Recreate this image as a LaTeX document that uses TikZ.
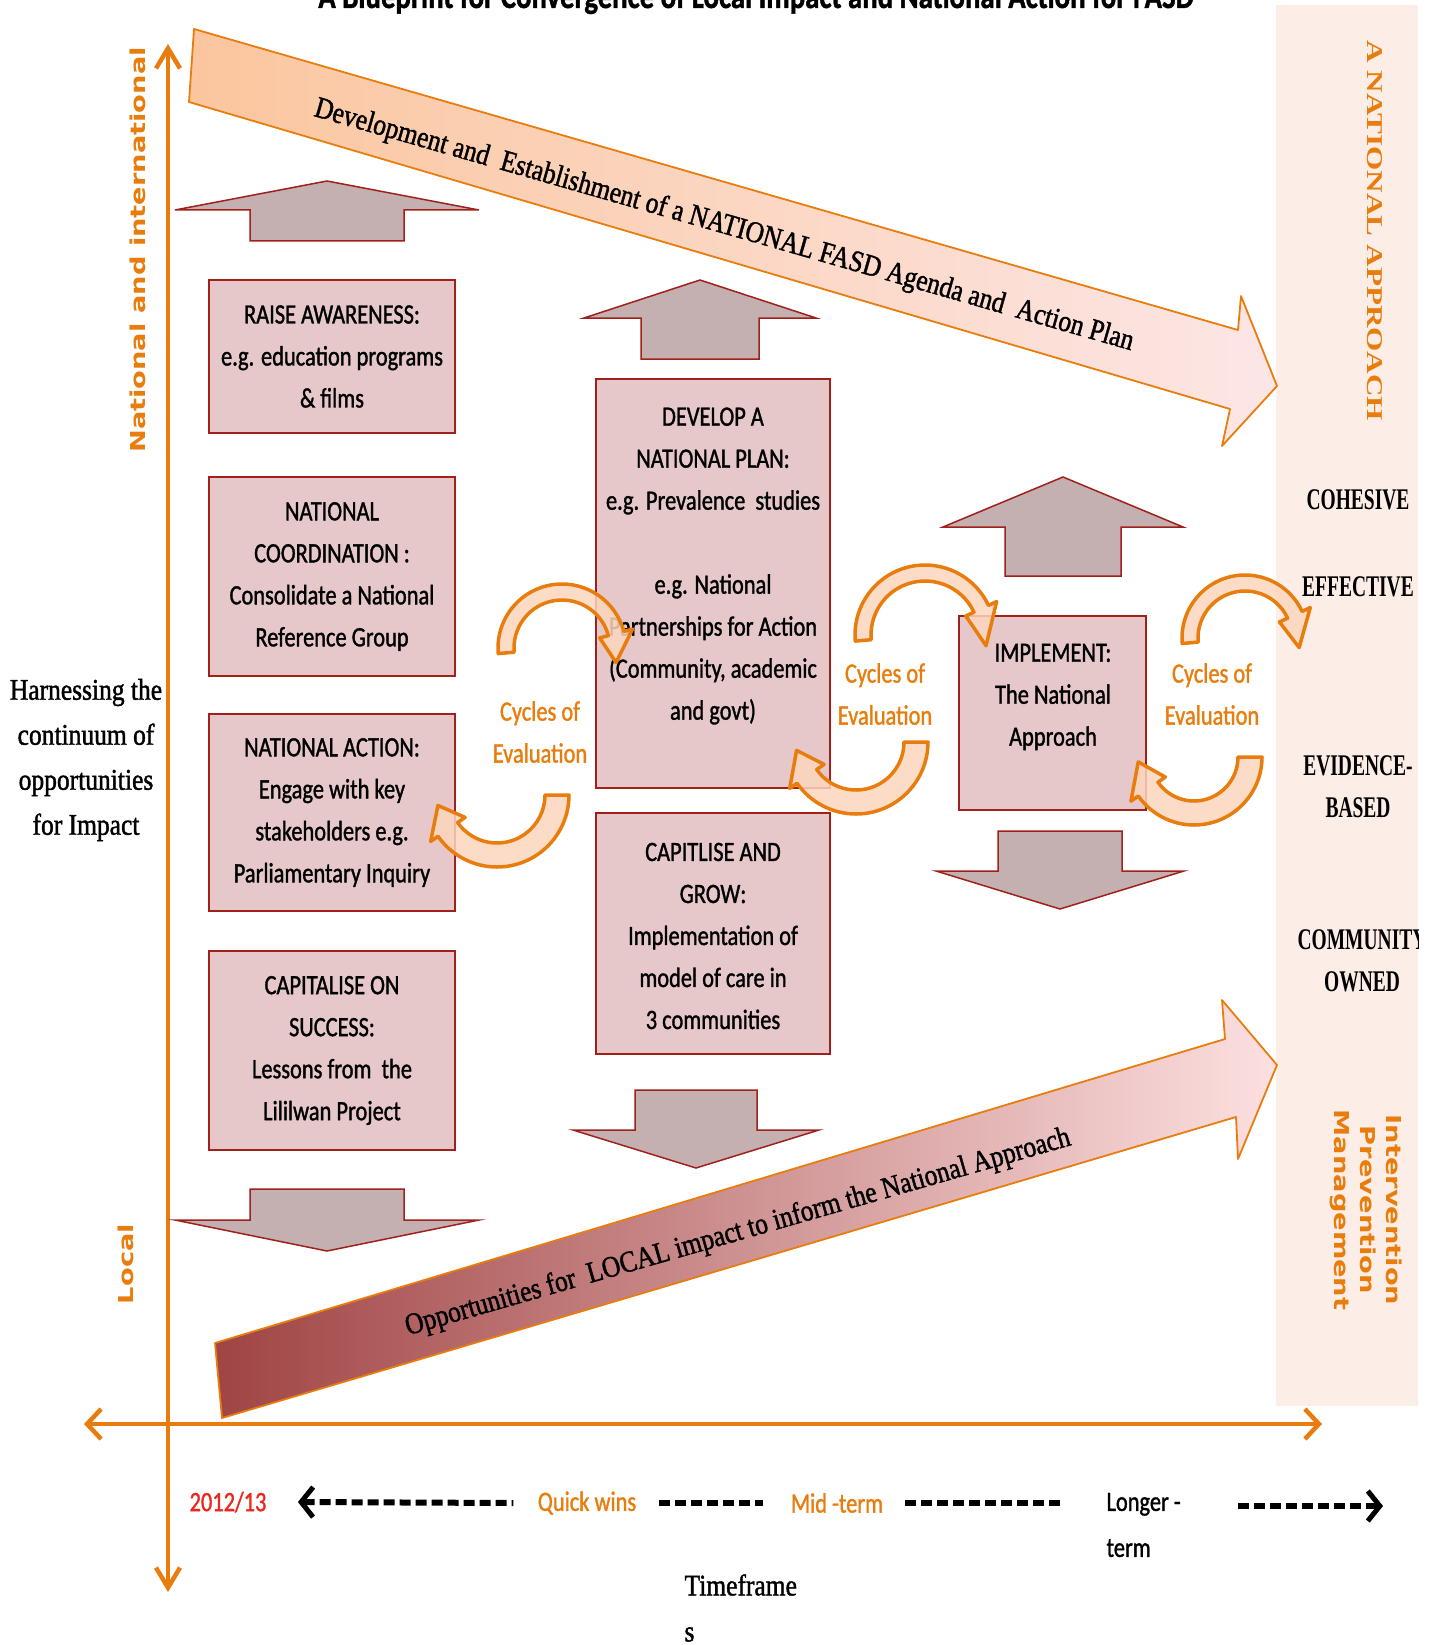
\documentclass[tikz,border=0pt]{standalone}
\usepackage{fontspec}
\setmainfont{Carlito}[FakeStretch=0.8,FakeBold=1.2]
\newfontfamily\bookfont{Liberation Serif}[FakeStretch=0.85,FakeBold=1.4]
\newfontfamily\panelfont{Liberation Serif}[FakeStretch=0.65]
\newfontfamily\tallserif{Liberation Serif}[FakeStretch=1.38]
\newfontfamily\tallsans{DejaVu Sans}[FakeStretch=1.33]
\usetikzlibrary{arrows.meta,calc,positioning}
\definecolor{AxisOrange}{RGB}{232,125,13}
\definecolor{StageFill}{RGB}{230,200,202}
\definecolor{StageRed}{RGB}{160,32,28}
\definecolor{StepMauve}{RGB}{196,176,176}
\definecolor{PanelPeach}{RGB}{252,238,230}
\definecolor{LoopPeach}{RGB}{252,214,188}
\definecolor{AgendaPeach}{RGB}{251,198,158}
\definecolor{AgendaRose}{RGB}{252,212,202}
\definecolor{AgendaPink}{RGB}{252,230,230}
\definecolor{LocalRed}{RGB}{160,68,68}
\definecolor{LocalRose}{RGB}{242,188,188}
\definecolor{LocalPink}{RGB}{253,224,224}
\definecolor{YearRed}{RGB}{235,40,30}

\tikzset{
  stagebox/.style={draw=StageRed,line width=1.5pt,fill=StageFill,inner sep=0pt},
  stagetext/.style={align=center,font=\fontsize{28}{42}\selectfont},
  blockarrow/.style={draw=StageRed,line width=1.5pt,fill=StepMauve},
  evalarrow/.style={draw=AxisOrange,line width=3.5pt,fill=LoopPeach,fill opacity=0.85,line join=round},
  evallabel/.style={align=center,text=AxisOrange,font=\fontsize{28}{42}\selectfont},
  bigarrow/.style={draw=AxisOrange,line width=1.8pt,line join=round},
  axisline/.style={AxisOrange,line width=4.5pt},
  axislabel/.style={text=AxisOrange,font=\tallsans\bfseries\fontsize{20.5}{26}\selectfont},
  panelword/.style={align=center,font=\panelfont\bfseries\fontsize{30}{42}\selectfont},
  timeline/.style={line width=6pt,dash pattern=on 11pt off 5pt},
  timetext/.style={font=\fontsize{28}{46}\selectfont},
}

% block arrow between stages: centre x, wing and shaft half widths, tip, wing and base y
\newcommand{\stagearrow}[6]{%
  \draw[blockarrow] (#1,#4) -- (#1+#2,#5) -- (#1+#3,#5) -- (#1+#3,#6)
    -- (#1-#3,#6) -- (#1-#3,#5) -- (#1-#2,#5) -- cycle;}
% curved arrow of a cycle: centre, mid radius, half width, start, end and tip angle
\newcommand{\evalloop}[7]{%
  \pgfmathsetmacro{\loopout}{#3+#4}\pgfmathsetmacro{\loopin}{#3-#4}%
  \pgfmathsetmacro{\headout}{#3+#4+9}\pgfmathsetmacro{\headin}{#3-#4-9}%
  \draw[evalarrow] ($(#1,#2)+(#5:\loopout)$)
      arc[start angle=#5,end angle=#6,radius=\loopout]
    -- ($(#1,#2)+(#6:\headout)$) -- ($(#1,#2)+(#7:#3)$) -- ($(#1,#2)+(#6:\headin)$)
    -- ($(#1,#2)+(#6:\loopin)$) arc[start angle=#6,end angle=#5,radius=\loopin] -- cycle;}

\begin{document}
\begin{tikzpicture}[x=1pt,y=-1pt]
  \useasboundingbox (0,0) rectangle (1433,1645);
  \node[font=\bfseries\fontsize{36}{40}\selectfont,anchor=base] (title) at (756,8)
    {A Blueprint for Convergence of Local Impact and National Action for FASD};

  % side panel
  \fill[PanelPeach] (1276,5) rectangle (1418,1406);
  \begin{scope}
    \clip (1276,5) rectangle (1418,1406);
    \node[text=AxisOrange,rotate=-90,font=\tallserif\bfseries\fontsize{22.6}{26}\selectfont]
      (national) at (1375,231) {A NATIONAL APPROACH};
    \node[panelword] (cohesive) at (1358,500) {COHESIVE};
    \node[panelword] (effective) at (1358,587) {EFFECTIVE};
    \node[panelword] (evidence) at (1358,787) {EVIDENCE-\\BASED};
    \node[panelword] (community) at (1362,961) {COMMUNITY\\OWNED};
    \node[axislabel,rotate=-90,align=center] (streams) at (1366,1210)
      {Intervention\\Prevention\\Management};
  \end{scope}

  % national agenda arrow
  \draw[bigarrow,left color=AgendaPeach,middle color=AgendaRose,right color=AgendaPink]
    (194,29) -- (1238,330) -- (1241,296) -- (1277,386) -- (1222,446)
    -- (1230,409) -- (189,102) -- cycle;
  \node[rotate=-16,font=\bookfont\fontsize{30}{36}\selectfont] (agenda) at (724,226)
    {Development and~ Establishment of a NATIONAL FASD Agenda and~ Action Plan};
  % local impact arrow
  \draw[bigarrow,left color=LocalRed,middle color=LocalRose,right color=LocalPink]
    (215,1343) -- (1225,1039) -- (1222,1000) -- (1277,1065) -- (1238,1159)
    -- (1236,1117) -- (222,1418) -- cycle;
  \node[rotate=16,font=\bookfont\fontsize{30}{36}\selectfont] (local) at (738,1233)
    {Opportunities for~ LOCAL impact to inform the National Approach};

  % axes
  \coordinate (top) at (168,44);
  \coordinate (bottom) at (168,1592);
  \coordinate (left) at (84,1424);
  \coordinate (right) at (1322,1424);
  \draw[axisline,{Straight Barb[length=20pt,width=24pt]}-{Straight Barb[length=20pt,width=24pt]}]
    (bottom) -- (top);
  \draw[axisline,{Straight Barb[length=14pt,width=30pt]}-{Straight Barb[length=14pt,width=30pt]}]
    (left) -- (right);
  \node[axislabel,rotate=90] (upper) at (138,250) {National and international};
  \node[axislabel,rotate=90] (lower) at (126,1264) {Local};
  \node[align=center,font=\bookfont\fontsize{30}{45}\selectfont] (harness) at (86,760)
    {Harnessing the\\continuum of\\opportunities\\for Impact};

  % stage arrows
  \stagearrow{327}{152}{77}{181}{210}{241}
  \stagearrow{327}{152}{77}{1251}{1220}{1189}
  \stagearrow{700}{116}{59}{280}{318}{359}
  \stagearrow{696}{123}{61}{1168}{1130}{1090}
  \stagearrow{1063}{120}{58}{477}{527}{576}
  \stagearrow{1060}{124}{62}{909}{871}{831}

  % stages
  \node[stagebox,minimum width=246pt,minimum height=153pt] (raise) at (332,356.5) {};
  \node[stagetext] at (raise) {RAISE AWARENESS:\\e.g. education programs\\\& films};
  \node[stagebox,minimum width=246pt,minimum height=199pt] (coord) at (332,576.5) {};
  \node[stagetext] at (coord) {NATIONAL\\COORDINATION :\\Consolidate a National\\Reference Group};
  \node[stagebox,minimum width=246pt,minimum height=197pt] (action) at (332,812.5) {};
  \node[stagetext] at (action) {NATIONAL ACTION:\\Engage with key\\stakeholders e.g.\\Parliamentary Inquiry};
  \node[stagebox,minimum width=246pt,minimum height=199pt] (success) at (332,1050.5) {};
  \node[stagetext] at (success) {CAPITALISE ON\\SUCCESS:\\Lessons from~ the\\Lililwan Project};
  \node[stagebox,minimum width=234pt,minimum height=409pt] (plan) at (713,583.5) {};
  \node[stagetext] at (713,566) {DEVELOP A\\NATIONAL PLAN:\\e.g. Prevalence~ studies\\[42pt]e.g. National\\Partnerships for Action\\(Community, academic\\and govt)};
  \node[stagebox,minimum width=234pt,minimum height=241pt] (grow) at (713,933.5) {};
  \node[stagetext] at (713,936) {CAPITLISE AND\\GROW:\\Implementation of\\model of care in\\3 communities};
  \node[stagebox,minimum width=187pt,minimum height=194pt] (implement) at (1052.5,713) {};
  \node[stagetext] at (1053,697) {IMPLEMENT:\\The National\\Approach};

  % cycles of evaluation
  \evalloop{562}{648}{56}{8}{175}{345}{375}
  \evalloop{497}{795}{60}{12}{0}{145}{170}
  \evalloop{925}{635}{62}{8}{175}{335}{370}
  \evalloop{856}{742}{60}{12}{0}{145}{172}
  \evalloop{1245}{638}{55}{8}{175}{335}{370}
  \evalloop{1194}{757}{56}{12}{0}{145}{175}
  \node[evallabel] (cycle1) at (540,732) {Cycles of\\Evaluation};
  \node[evallabel] (cycle2) at (885,694) {Cycles of\\Evaluation};
  \node[evallabel] (cycle3) at (1212,694) {Cycles of\\Evaluation};

  % timeline
  \node[timetext,text=YearRed] (year) at (228,1502) {2012/13};
  \node[timetext,text=AxisOrange] (quick) at (587,1503) {Quick wins};
  \node[timetext,text=AxisOrange] (mid) at (837,1503) {Mid -term};
  \node[timetext,align=left,anchor=west] (longer) at (1103,1525) {Longer -\\term};
  \coordinate (later) at (1383,1506);
  \draw[timeline,{Straight Barb[length=12pt,width=30pt,line width=5pt]}-]
    ([xshift=28pt]year.east) -- ([xshift=-21pt]quick.west);
  \draw[timeline] ([xshift=19pt]quick.east) -- ([xshift=-24pt]mid.west);
  \draw[timeline] ([xshift=18pt]mid.east) -- ($(longer.west |- mid.east)+(-40,0)$);
  \draw[timeline,-{Straight Barb[length=12pt,width=30pt,line width=5pt]}]
    ($(longer.east |- later)+(54,0)$) -- (later);
  \node[align=left,anchor=west,font=\bookfont\fontsize{30}{46}\selectfont] (frames)
    at (681,1608) {Timeframe\\s};
\end{tikzpicture}
\end{document}
